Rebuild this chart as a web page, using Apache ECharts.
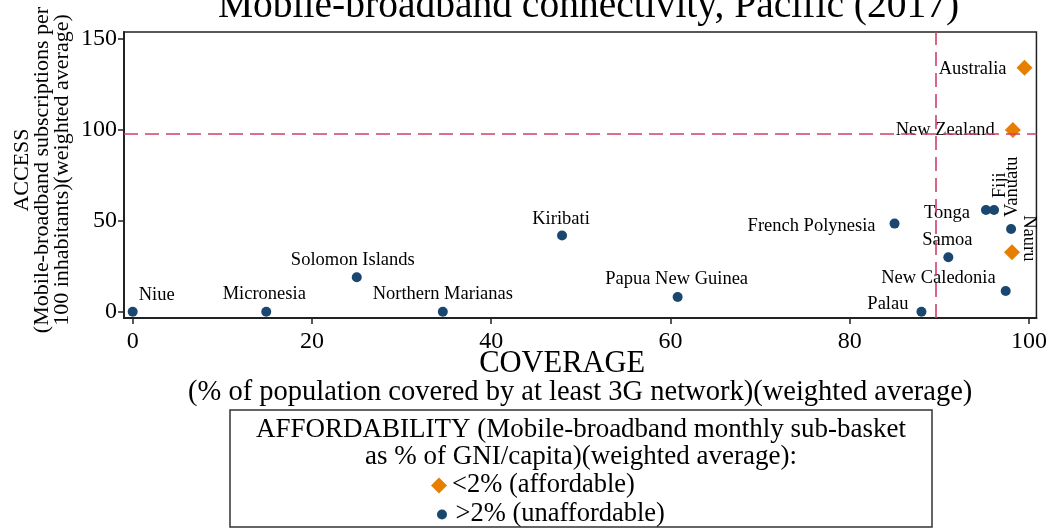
<!DOCTYPE html>
<html>
<head>
<meta charset="utf-8">
<script src="https://cdn.jsdelivr.net/npm/echarts@6/dist/echarts.min.js"></script>
<style>
  html, body { margin: 0; padding: 0; background: #fff; }
  #chart { width: 1050px; height: 529px; }
</style>
</head>
<body>
<div id="chart"></div>
<script>
// data
var countries = ['Niue', 'Micronesia', 'Solomon Islands', 'Northern Marianas', 'Kiribati',
    'Papua New Guinea', 'French Polynesia', 'Samoa', 'Palau', 'Tonga', 'Fiji', 'Vanuatu',
    'New Caledonia', 'Nauru', 'Australia', 'New Zealand'];
var coverage = [0, 14.9, 25.0, 34.6, 47.9, 60.8, 85.0, 91.0, 88.0, 95.2, 96.1, 98.0, 97.4, 98.1, 99.5, 98.2];
var access = [0, 0, 18.9, 0, 41.9, 8.1, 48.4, 29.9, 0, 55.9, 55.9, 45.4, 11.4, 32.6, 134.1, 99.8];
var affordable = [0, 0, 0, 0, 0, 0, 0, 0, 0, 0, 0, 0, 0, 1, 1, 1];
var xTicks = [0, 20, 40, 60, 80, 100];
var yTicks = [0, 50, 100, 150];
var accessAvg = 98;
var coverageAvg = 89.6;

// label placement: offset from point centre, align, rotation
var labelSpot = {
    'Niue': [6, -17, 'left'],
    'Micronesia': [-2, -18, 'center'],
    'Solomon Islands': [-4, -17, 'center'],
    'Northern Marianas': [0, -18, 'center'],
    'Kiribati': [-1, -16, 'center'],
    'Papua New Guinea': [-1, -18, 'center'],
    'French Polynesia': [-19, 3, 'right'],
    'Samoa': [-1, -17, 'center'],
    'Palau': [-13, -8, 'right'],
    'Tonga': [-16, 3, 'right'],
    'New Caledonia': [-10, -13, 'right'],
    'Australia': [-18, 2, 'right'],
    'New Zealand': [-18, 0, 'right'],
    'Fiji': [6, -12, 'left', 90],
    'Vanuatu': [1, -12, 'left', 90],
    'Nauru': [17, -14, 'center', -90]
};

var FONT = '"Liberation Serif", "Times New Roman", serif';
var NAVY = '#1a476f';
var ORANGE = '#e67e00';
var RED = '#d23f66';

function buildPoints(flag, size) {
    var out = [];
    countries.forEach(function (c, i) {
        if (affordable[i] !== flag) return;
        var s = labelSpot[c];
        var lab = {
            show: true,
            formatter: c,
            position: [s[0] + size / 2, s[1] + size / 2],
            align: s[2],
            verticalAlign: 'middle'
        };
        if (s[3]) lab.rotate = s[3];
        out.push({ name: c, value: [coverage[i], access[i]], label: lab });
    });
    return out;
}

var chart = echarts.init(document.getElementById('chart'));
chart.setOption({
    animation: false,
    backgroundColor: '#fff',
    title: {
        text: 'Mobile-broadband connectivity, Pacific (2017)',
        left: 218,
        top: -13,
        padding: 0,
        textStyle: { fontFamily: FONT, fontSize: 39.5, fontWeight: 'normal', color: '#000' }
    },
    grid: {
        left: 124, top: 32, right: 13, bottom: 211,
        show: true, borderColor: '#222', borderWidth: 1.5, backgroundColor: '#fff'
    },
    xAxis: {
        type: 'value',
        min: -0.97,
        max: 100.83,
        name: '{a|COVERAGE}\n(% of population covered by at least 3G network)(weighted average)',
        nameLocation: 'middle',
        nameGap: 31,
        nameMoveOverlap: false,
        nameTextStyle: {
            fontFamily: FONT, fontSize: 28.5, color: '#000', lineHeight: 29,
            rich: { a: { fontFamily: FONT, fontSize: 30.5, color: '#000', lineHeight: 29, padding: [0, 36, 0, 0] } }
        },
        axisLine: { onZero: false, lineStyle: { color: '#222', width: 2 } },
        axisTick: { customValues: xTicks, length: 6, lineStyle: { color: '#222', width: 1.5 } },
        axisLabel: {
            customValues: xTicks, margin: 12,
            fontFamily: FONT, fontSize: 24, color: '#000'
        },
        splitLine: { show: false }
    },
    yAxis: {
        type: 'value',
        min: -3.46,
        max: 153.68,
        name: 'ACCESS\n(Mobile-broadband subscriptions per\n100 inhabitants)(weighted average)',
        nameLocation: 'middle',
        nameGap: 52,
        nameMoveOverlap: false,
        nameTextStyle: { fontFamily: FONT, fontSize: 22, color: '#000', lineHeight: 20, padding: [0, 0, 0, 10] },
        axisLine: { onZero: false, lineStyle: { color: '#222', width: 2 } },
        axisTick: { customValues: yTicks, length: 6, lineStyle: { color: '#222', width: 1.5 } },
        axisLabel: {
            customValues: yTicks, margin: 7,
            fontFamily: FONT, fontSize: 24, color: '#000'
        },
        splitLine: { show: false }
    },
    legend: [{
        data: [{ name: '<2% (affordable)', icon: 'diamond' }],
        orient: 'vertical',
        left: 431, top: 472, padding: 0,
        itemWidth: 16, itemHeight: 16,
        selectedMode: false,
        itemStyle: { opacity: 1 },
        textStyle: { fontFamily: FONT, fontSize: 26.5, color: '#000' }
    }, {
        data: [{ name: '>2% (unaffordable)', icon: 'circle' }],
        orient: 'vertical',
        left: 437, top: 501, padding: 0,
        itemWidth: 17, itemHeight: 10,
        selectedMode: false,
        itemStyle: { opacity: 1 },
        textStyle: { fontFamily: FONT, fontSize: 26.5, color: '#000' }
    }],
    graphic: [{
        type: 'rect',
        shape: { x: 230, y: 410, width: 702, height: 117 },
        style: { fill: 'none', stroke: '#333', lineWidth: 1.5 },
        silent: true
    }, {
        type: 'text',
        x: 581, y: 430,
        style: {
            text: 'AFFORDABILITY (Mobile-broadband monthly sub-basket',
            font: '27px ' + FONT, fill: '#000', align: 'center', verticalAlign: 'middle'
        }
    }, {
        type: 'text',
        x: 581, y: 457,
        style: {
            text: 'as % of GNI/capita)(weighted average):',
            font: '27px ' + FONT, fill: '#000', align: 'center', verticalAlign: 'middle'
        }
    }],
    series: [{
        name: '>2% (unaffordable)',
        type: 'scatter',
        symbol: 'circle',
        symbolSize: 10,
        itemStyle: { color: NAVY, opacity: 1 },
        label: { fontFamily: FONT, fontSize: 18.5, color: '#000' },
        data: buildPoints(0, 10),
        markLine: {
            silent: true,
            symbol: 'none',
            label: { show: false },
            lineStyle: { color: RED, type: [14, 7], width: 1.6, opacity: 1 },
            data: [{ yAxis: accessAvg }, { xAxis: coverageAvg }]
        },
        z: 3
    }, {
        name: '<2% (affordable)',
        type: 'scatter',
        symbol: 'diamond',
        symbolSize: 16,
        itemStyle: { color: ORANGE, opacity: 1 },
        label: { fontFamily: FONT, fontSize: 18.5, color: '#000' },
        data: buildPoints(1, 16),
        z: 3
    }]
});
</script>
</body>
</html>
